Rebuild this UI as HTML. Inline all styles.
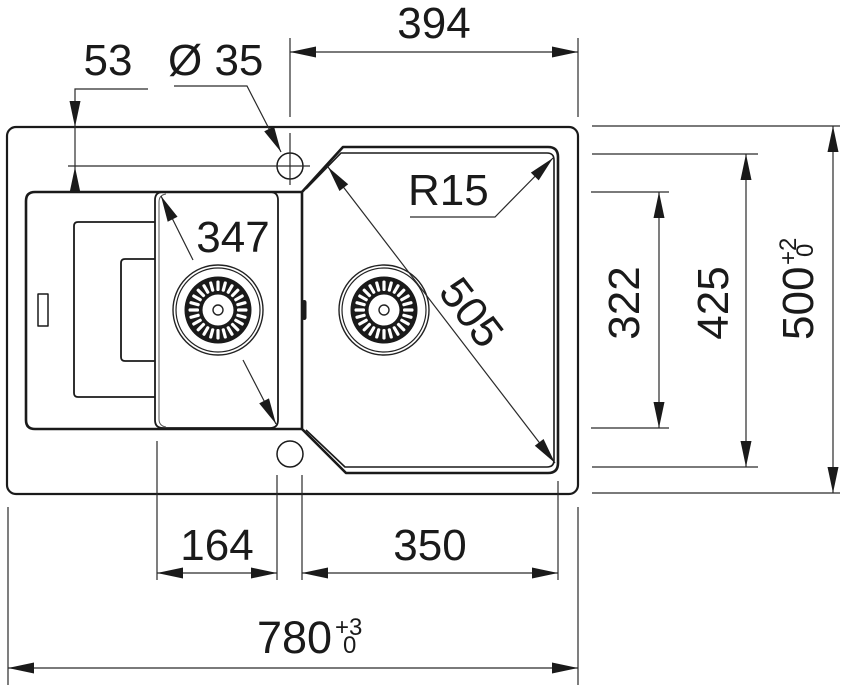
<!DOCTYPE html>
<html>
<head>
<meta charset="utf-8">
<style>
  html,body{margin:0;padding:0;background:#fff;}
  svg{display:block;}
  text{font-family:"Liberation Sans",Arial,sans-serif;fill:#1a1a1a;}
</style>
</head>
<body>
<svg width="845" height="687" viewBox="0 0 845 687" xmlns="http://www.w3.org/2000/svg">
  <defs>
    <marker id="ar" markerUnits="userSpaceOnUse" markerWidth="30" markerHeight="14" viewBox="-28 -7 30 14" refX="0" refY="0" orient="auto-start-reverse">
      <path d="M0,0 L-26,-5.5 L-26,5.5 Z" fill="#1a1a1a"/>
    </marker>
    <g id="drain">
      <circle r="45" fill="none" stroke="#222" stroke-width="1.4"/>
      <circle r="42" fill="none" stroke="#222" stroke-width="1.2"/>
      <circle r="33.5" fill="#1a1a1a"/>
      <g fill="#fff">
        <rect x="-1.6" y="-29.5" width="3.2" height="10.5" rx="1.4" transform="rotate(0)"/>
        <rect x="-1.6" y="-29.5" width="3.2" height="10.5" rx="1.4" transform="rotate(15)"/>
        <rect x="-1.6" y="-29.5" width="3.2" height="10.5" rx="1.4" transform="rotate(30)"/>
        <rect x="-1.6" y="-29.5" width="3.2" height="10.5" rx="1.4" transform="rotate(45)"/>
        <rect x="-1.6" y="-29.5" width="3.2" height="10.5" rx="1.4" transform="rotate(60)"/>
        <rect x="-1.6" y="-29.5" width="3.2" height="10.5" rx="1.4" transform="rotate(75)"/>
        <rect x="-1.6" y="-29.5" width="3.2" height="10.5" rx="1.4" transform="rotate(90)"/>
        <rect x="-1.6" y="-29.5" width="3.2" height="10.5" rx="1.4" transform="rotate(105)"/>
        <rect x="-1.6" y="-29.5" width="3.2" height="10.5" rx="1.4" transform="rotate(120)"/>
        <rect x="-1.6" y="-29.5" width="3.2" height="10.5" rx="1.4" transform="rotate(135)"/>
        <rect x="-1.6" y="-29.5" width="3.2" height="10.5" rx="1.4" transform="rotate(150)"/>
        <rect x="-1.6" y="-29.5" width="3.2" height="10.5" rx="1.4" transform="rotate(165)"/>
        <rect x="-1.6" y="-29.5" width="3.2" height="10.5" rx="1.4" transform="rotate(180)"/>
        <rect x="-1.6" y="-29.5" width="3.2" height="10.5" rx="1.4" transform="rotate(195)"/>
        <rect x="-1.6" y="-29.5" width="3.2" height="10.5" rx="1.4" transform="rotate(210)"/>
        <rect x="-1.6" y="-29.5" width="3.2" height="10.5" rx="1.4" transform="rotate(225)"/>
        <rect x="-1.6" y="-29.5" width="3.2" height="10.5" rx="1.4" transform="rotate(240)"/>
        <rect x="-1.6" y="-29.5" width="3.2" height="10.5" rx="1.4" transform="rotate(255)"/>
        <rect x="-1.6" y="-29.5" width="3.2" height="10.5" rx="1.4" transform="rotate(270)"/>
        <rect x="-1.6" y="-29.5" width="3.2" height="10.5" rx="1.4" transform="rotate(285)"/>
        <rect x="-1.6" y="-29.5" width="3.2" height="10.5" rx="1.4" transform="rotate(300)"/>
        <rect x="-1.6" y="-29.5" width="3.2" height="10.5" rx="1.4" transform="rotate(315)"/>
        <rect x="-1.6" y="-29.5" width="3.2" height="10.5" rx="1.4" transform="rotate(330)"/>
        <rect x="-1.6" y="-29.5" width="3.2" height="10.5" rx="1.4" transform="rotate(345)"/>
      </g>
      <circle r="15.5" fill="#fff"/>
      <circle r="5" fill="none" stroke="#222" stroke-width="1.4"/>
    </g>
  </defs>

  <rect width="845" height="687" fill="#fff"/>

  <!-- ===== Sink body ===== -->
  <g fill="none" stroke="#1a1a1a" stroke-linejoin="round">
    <rect x="7" y="127" width="571" height="367" rx="9" stroke-width="2.2"/>
    <path d="M302 192 L35 192 Q26 192 26 201 L26 420 Q26 429 35 429 L302 429" stroke-width="2.6"/>
    <path d="M302 192 L343 147 L548 147 Q558 147 558 157 L558 463 Q558 473 548 473 L346 473 L302 429 Z" stroke-width="2.6"/>
    <path d="M306 189 L341 153 L547 153 Q554 153 554 160 L554 460 Q554 467 547 467 L345 467 L306 430" stroke-width="1.6"/>
    <path d="M163 192 Q155 192 155 200 L155 420 Q155 428 163 428 L270 428 Q278 428 278 420 L278 200 Q278 192 270 192" stroke-width="1.8"/>
    <path d="M166 194 Q159 195 159 202 L159 419 Q159 426 166 427" stroke-width="1" stroke="#555"/>
    <path d="M155 222 L78 222 Q74 222 74 226 L74 393 Q74 397 78 397 L155 397" stroke-width="1.8"/>
    <path d="M155 259 L125 259 Q121 259 121 263 L121 357 Q121 361 125 361 L155 361" stroke-width="1.8"/>
    <rect x="38" y="294" width="10" height="32" stroke-width="1.5"/>
    <circle cx="290" cy="166" r="13" stroke-width="1.5"/>
    <circle cx="290" cy="454" r="13" stroke-width="1.5"/>
  </g>
  <rect x="302" y="300" width="4.5" height="20" rx="2.2" fill="#1a1a1a"/>

  <use href="#drain" x="218" y="310"/>
  <use href="#drain" x="384" y="310"/>

  <!-- ===== Dimension lines ===== -->
  <g fill="none" stroke="#2a2a2a" stroke-width="1.2">
    <line x1="290" y1="38" x2="290" y2="117"/>
    <line x1="578" y1="38" x2="578" y2="117"/>
    <path d="M290 52 L578 52" marker-start="url(#ar)" marker-end="url(#ar)"/>
    <line x1="290" y1="133" x2="290" y2="185"/>
    <line x1="68" y1="166" x2="310" y2="166"/>
    <path d="M148 89 L75 89 L75 127" marker-end="url(#ar)"/>
    <line x1="75" y1="127" x2="75" y2="167"/>
    <path d="M75 193 L75 167" marker-end="url(#ar)"/>
    <path d="M174 86 L247 86 L281 152" marker-end="url(#ar)"/>
    <path d="M410 217 L495 217 L553 158" marker-end="url(#ar)"/>
    <path d="M193 260 L161 196" marker-end="url(#ar)"/>
    <path d="M243 360 L276 424" marker-end="url(#ar)"/>
    <path d="M328 167 L555 463" marker-start="url(#ar)" marker-end="url(#ar)"/>
    <line x1="157" y1="441" x2="157" y2="580"/>
    <line x1="277" y1="475" x2="277" y2="580"/>
    <line x1="302" y1="475" x2="302" y2="580"/>
    <line x1="558" y1="481" x2="558" y2="580"/>
    <path d="M157 573 L277 573" marker-start="url(#ar)" marker-end="url(#ar)"/>
    <path d="M302 573 L558 573" marker-start="url(#ar)" marker-end="url(#ar)"/>
    <line x1="8" y1="507" x2="8" y2="685"/>
    <line x1="578" y1="507" x2="578" y2="685"/>
    <path d="M8 668 L578 668" marker-start="url(#ar)" marker-end="url(#ar)"/>
    <line x1="591" y1="192" x2="669" y2="192"/>
    <line x1="591" y1="428" x2="669" y2="428"/>
    <path d="M659 192 L659 428" marker-start="url(#ar)" marker-end="url(#ar)"/>
    <line x1="592" y1="154" x2="758" y2="154"/>
    <line x1="592" y1="467" x2="758" y2="467"/>
    <path d="M746 154 L746 467" marker-start="url(#ar)" marker-end="url(#ar)"/>
    <line x1="592" y1="126" x2="840" y2="126"/>
    <line x1="592" y1="493" x2="840" y2="493"/>
    <path d="M833 126 L833 493" marker-start="url(#ar)" marker-end="url(#ar)"/>
  </g>

  <!-- ===== Labels ===== -->
  <g font-size="44">
    <text x="434" y="38" text-anchor="middle">394</text>
    <text x="108" y="75" text-anchor="middle">53</text>
    <text x="168" y="75">Ø 35</text>
    <text x="408" y="205">R15</text>
    <text x="233" y="252" text-anchor="middle">347</text>
    <text x="217" y="560" text-anchor="middle">164</text>
    <text x="430" y="560" text-anchor="middle">350</text>
    <text x="257" y="653" font-size="45">780</text>
    <text transform="translate(639,303) rotate(-90)" text-anchor="middle">322</text>
    <text transform="translate(728,303) rotate(-90)" text-anchor="middle">425</text>
    <text transform="translate(813,340) rotate(-90)">500</text>
    <text transform="translate(472,312) rotate(52.6)" x="0" y="15.7" text-anchor="middle">505</text>
  </g>
  <g font-size="24">
    <text x="335" y="635">+3</text>
    <text x="343" y="653">0</text>
    <text transform="translate(813,340) rotate(-90)" x="75" y="-17">+2</text>
    <text transform="translate(813,340) rotate(-90)" x="83" y="0">0</text>
  </g>
</svg>
</body>
</html>
